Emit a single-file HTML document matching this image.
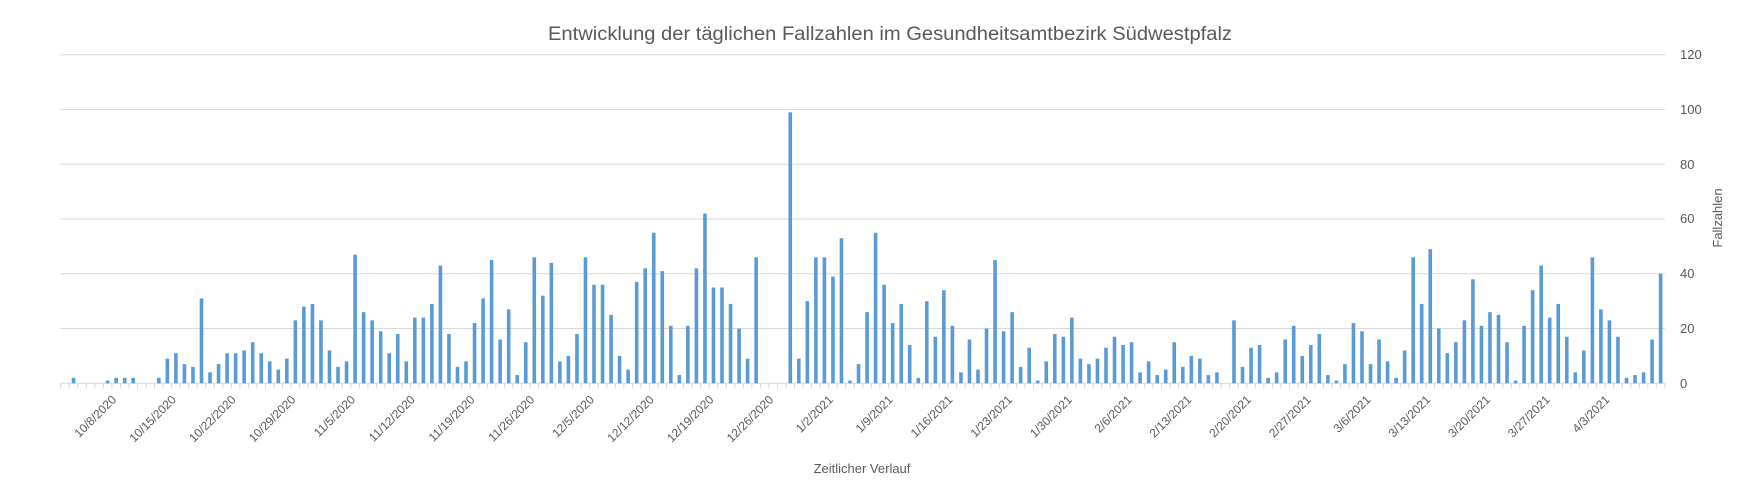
<!DOCTYPE html>
<html><head><meta charset="utf-8"><style>
html,body{margin:0;padding:0;background:#fff;}
svg{display:block;font-family:"Liberation Sans",sans-serif;}
</style></head><body>
<svg id="c" width="1742" height="493" viewBox="0 0 1742 493" xmlns="http://www.w3.org/2000/svg">
<rect width="1742" height="493" fill="#fff"/>
<text x="890" y="40" font-size="19" fill="#595959" text-anchor="middle" textLength="684" lengthAdjust="spacingAndGlyphs">Entwicklung der täglichen Fallzahlen im Gesundheitsamtbezirk Südwestpfalz</text>
<g stroke="#d9d9d9" stroke-width="1">
<line x1="60.7" x2="1665" y1="54.8" y2="54.8"/>
<line x1="60.7" x2="1665" y1="109.5" y2="109.5"/>
<line x1="60.7" x2="1665" y1="164.3" y2="164.3"/>
<line x1="60.7" x2="1665" y1="219" y2="219"/>
<line x1="60.7" x2="1665" y1="273.8" y2="273.8"/>
<line x1="60.7" x2="1665" y1="328.5" y2="328.5"/>
<line x1="60.7" x2="1665" y1="383.3" y2="383.3"/>
</g>
<g font-size="13" fill="#595959">
<text x="1680" y="59">120</text>
<text x="1680" y="114">100</text>
<text x="1680" y="169">80</text>
<text x="1680" y="223">60</text>
<text x="1680" y="278">40</text>
<text x="1680" y="333">20</text>
<text x="1680" y="388">0</text>
</g>
<text x="0" y="0" font-size="13" fill="#595959" text-anchor="middle" transform="translate(1722,218) rotate(-90)">Fallzahlen</text>
<text x="862" y="473" font-size="13" fill="#595959" text-anchor="middle">Zeitlicher Verlauf</text>
<g id="bars" fill="#5b9bd5"></g>
<g id="ticks" stroke="#d9d9d9" stroke-width="1"></g>
<g id="labels" font-size="12" fill="#595959" text-anchor="end">
<text data-i="5">10/8/2020</text>
<text data-i="12">10/15/2020</text>
<text data-i="19">10/22/2020</text>
<text data-i="26">10/29/2020</text>
<text data-i="33">11/5/2020</text>
<text data-i="40">11/12/2020</text>
<text data-i="47">11/19/2020</text>
<text data-i="54">11/26/2020</text>
<text data-i="61">12/5/2020</text>
<text data-i="68">12/12/2020</text>
<text data-i="75">12/19/2020</text>
<text data-i="82">12/26/2020</text>
<text data-i="89">1/2/2021</text>
<text data-i="96">1/9/2021</text>
<text data-i="103">1/16/2021</text>
<text data-i="110">1/23/2021</text>
<text data-i="117">1/30/2021</text>
<text data-i="124">2/6/2021</text>
<text data-i="131">2/13/2021</text>
<text data-i="138">2/20/2021</text>
<text data-i="145">2/27/2021</text>
<text data-i="152">3/6/2021</text>
<text data-i="159">3/13/2021</text>
<text data-i="166">3/20/2021</text>
<text data-i="173">3/27/2021</text>
<text data-i="180">4/3/2021</text>
</g>
</svg>
<script>
var v=[0,2,0,0,0,1,2,2,2,0,0,2,9,11,7,6,31,4,7,11,11,12,15,11,8,5,9,23,28,29,23,12,6,8,47,26,23,19,11,18,8,24,24,29,43,18,6,8,22,31,45,16,27,3,15,46,32,44,8,10,18,46,36,36,25,10,5,37,42,55,41,21,3,21,42,62,35,35,29,20,9,46,0,0,0,99,9,30,46,46,39,53,1,7,26,55,36,22,29,14,2,30,17,34,21,4,16,5,20,45,19,26,6,13,1,8,18,17,24,9,7,9,13,17,14,15,4,8,3,5,15,6,10,9,3,4,0,23,6,13,14,2,4,16,21,10,14,18,3,1,7,22,19,7,16,8,2,12,46,29,49,20,11,15,23,38,21,26,25,15,1,21,34,43,24,29,17,4,12,46,27,23,17,2,3,4,16,40];
var L=60.7,W=8.533,B=383.3,S=2.7375,ns="http://www.w3.org/2000/svg";
var bars=document.getElementById("bars"),ticks=document.getElementById("ticks");
for(var i=0;i<v.length;i++){if(v[i]>0){var r=document.createElementNS(ns,"rect");var h=v[i]*S;var cx=L+(i+0.5)*W;r.setAttribute("x",cx-1.8);r.setAttribute("width",3.6);r.setAttribute("y",B-h);r.setAttribute("height",h);bars.appendChild(r);}}
for(var i=0;i<=v.length;i++){var l=document.createElementNS(ns,"line");var x=L+i*W;l.setAttribute("x1",x);l.setAttribute("x2",x);l.setAttribute("y1",B);l.setAttribute("y2",B+5);ticks.appendChild(l);}
var ts=document.querySelectorAll("#labels text");
for(var k=0;k<ts.length;k++){var i=+ts[k].getAttribute("data-i");var cx=L+(i+0.5)*W+3;var y=394;ts[k].setAttribute("x",cx);ts[k].setAttribute("y",y+9);ts[k].setAttribute("transform","rotate(-45 "+cx+" "+y+")");}
</script>
</body></html>
